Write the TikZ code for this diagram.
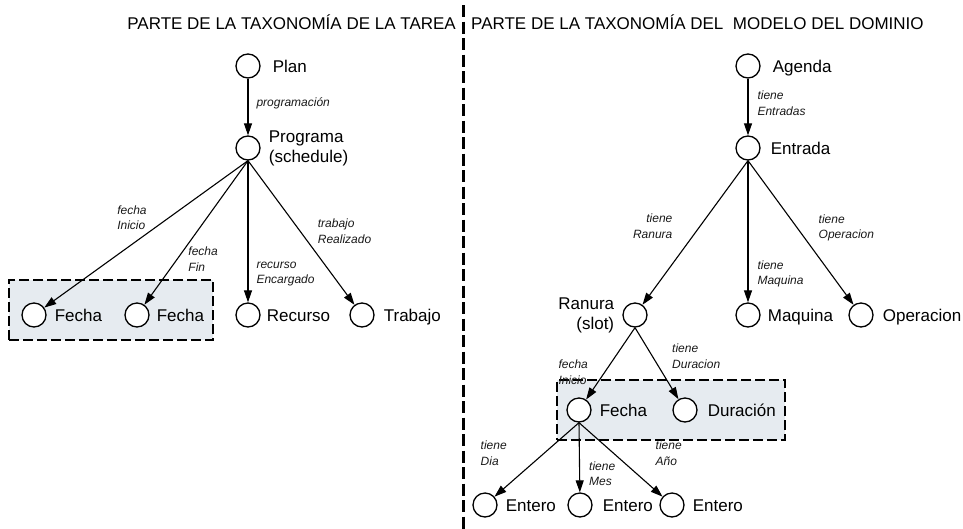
\documentclass[tikz,border=0pt]{standalone}
\usepackage{fontspec}
\setmainfont{Liberation Sans}
\usetikzlibrary{positioning, fit, backgrounds, arrows.meta}
\definecolor{boxfill}{RGB}{230,235,240}

\begin{document}
\begin{tikzpicture}[
    x=1pt, y=-1pt,
    % ── node styles ─────────────────────────────────────────
    obj/.style = { draw, circle, minimum size=24pt, inner sep=0pt,
            line width=1.3pt, fill=white, },
    lbl/.style = { font=\fontsize{17}{20}\selectfont, inner sep=1pt,
            text height=15.7pt, text depth=3.5pt, },
    lbl2/.style = { font=\fontsize{17}{20}\selectfont, inner sep=1pt, },
    elbl/.style = { font=\fontsize{12}{15.5}\selectfont\itshape, inner sep=1pt,
            align=left, text=black!90, },
    rel/.style = {-{Triangle[length=12pt, width=8pt]}, line width=1.1pt},
    grp/.style = { draw, fill=boxfill, dash pattern=on 10pt off 4pt,
            line width=2.8pt, inner sep=0pt, },
    title/.style = {font=\fontsize{17}{20}\selectfont, inner sep=0pt},
    divider/.style = {dash pattern=on 12pt off 4.5pt, line width=3pt},
    node distance = 7pt,
    ]
    \useasboundingbox (0,0) rectangle (963,528);

    % ============================================================
    % TITLES  |  DIVIDER
    % ============================================================
    \node[title, anchor=base east] (title-tarea) at (456,29)
    {PARTE DE LA TAXONOMÍA DE LA TAREA};
    \node[title, anchor=base west] (title-dominio) at (471,29)
    {PARTE DE LA TAXONOMÍA DEL\ \ MODELO DEL DOMINIO};

    \coordinate (div-top) at (463,5);
    \coordinate (div-bot) at (463,530);
    \draw[divider] (div-top) -- (div-bot);

    % ============================================================
    % TASK TAXONOMY
    % ============================================================
    \node[obj] (plan) at (248,66) {};
    \node[obj] (programa) at (248,148) {};
    \node[obj] (fecha-ini) at (34,315) {};
    \node[obj] (fecha-fin) at (137,315) {};
    \node[obj] (recurso) at (248,315) {};
    \node[obj] (trabajo) at (362,315) {};

    \node[lbl, right=11pt of plan] (plan-lbl) {Plan};
    \node[lbl2, align=left, right=7pt of programa] (programa-lbl)
    {Programa\\(schedule)};
    \node[lbl, right=of fecha-ini] (fecha-ini-lbl) {Fecha};
    \node[lbl, right=6pt of fecha-fin] (fecha-fin-lbl) {Fecha};
    \node[lbl, right=5pt of recurso] (recurso-lbl) {Recurso};
    \node[lbl, right=8pt of trabajo] (trabajo-lbl) {Trabajo};

    \draw[rel] (plan) -- (programa)
    node[elbl, pos=0.43, anchor=west, xshift=7pt] (e-programacion) {programación};
    \draw[rel] (programa.south) -- (fecha-ini)
    node[elbl, pos=0.48, anchor=south east, xshift=-2pt] (e-fecha-ini) {fecha\\Inicio};
    \draw[rel] (programa.south) -- (fecha-fin)
    node[elbl, pos=0.59, anchor=north west] (e-fecha-fin) {fecha\\Fin};
    \draw[rel] (programa.south) -- (recurso)
    node[elbl, pos=0.80, anchor=west, xshift=7pt] (e-recurso) {recurso\\Encargado};
    \draw[rel] (programa.south) -- (trabajo)
    node[elbl, pos=0.585, anchor=south west, xshift=6pt] (e-trabajo) {trabajo\\Realizado};

    % ============================================================
    % DOMAIN MODEL TAXONOMY
    % ============================================================
    \node[obj] (agenda) at (748,66) {};
    \node[obj] (entrada) at (748,148) {};
    \node[obj] (ranura) at (635,315) {};
    \node[obj] (maquina) at (748,315) {};
    \node[obj] (operacion) at (861,315) {};
    \node[obj] (fecha) at (579,410) {};
    \node[obj] (duracion) at (685,410) {};
    \node[obj] (entero-dia) at (485,505) {};
    \node[obj] (entero-mes) at (580,505) {};
    \node[obj] (entero-anio) at (672,505) {};

    \node[lbl, right=11pt of agenda] (agenda-lbl) {Agenda};
    \node[lbl, right=9pt of entrada] (entrada-lbl) {Entrada};
    \node[lbl2, align=right, left=7pt of ranura] (ranura-lbl) {Ranura\\(slot)};
    \node[lbl, right=6pt of maquina] (maquina-lbl) {Maquina};
    \node[lbl, right=8pt of operacion] (operacion-lbl) {Operacion};
    \node[lbl, right=of fecha] (fecha-lbl) {Fecha};
    \node[lbl, right=9pt of duracion] (duracion-lbl) {Duración};
    \node[lbl, right=of entero-dia] (entero-dia-lbl) {Entero};
    \node[lbl, right=9pt of entero-mes] (entero-mes-lbl) {Entero};
    \node[lbl, right=of entero-anio] (entero-anio-lbl) {Entero};

    \draw[rel] (agenda) -- (entrada)
    node[elbl, pos=0.43, anchor=west, xshift=8pt] (e-entradas) {tiene\\Entradas};
    \draw[rel] (entrada.south) -- (ranura)
    node[elbl, align=right, pos=0.55, anchor=south east, xshift=-16pt] (e-ranura) {tiene\\Ranura};
    \draw[rel] (entrada.south) -- (maquina)
    node[elbl, pos=0.80, anchor=west, xshift=8pt] (e-maquina) {tiene\\Maquina};
    \draw[rel] (entrada.south) -- (operacion)
    node[elbl, pos=0.57, anchor=south west, xshift=9pt] (e-operacion) {tiene\\Operacion};
    \draw[rel] (ranura.south) -- (fecha)
    node[elbl, pos=0.81, anchor=south east, xshift=-6pt] (e-inicio) {fecha\\Inicio};
    \draw[rel] (ranura.south) -- (duracion)
    node[elbl, pos=0.59, anchor=south west, xshift=10pt] (e-duracion) {tiene\\Duracion};
    \draw[rel] (fecha.south) -- (entero-dia)
    node[elbl, pos=0.6, anchor=south east, xshift=-20pt] (e-dia) {tiene\\Dia};
    \draw[rel] (fecha.south) -- (entero-mes)
    node[elbl, pos=0.73, anchor=west, xshift=8pt] (e-mes) {tiene\\Mes};
    \draw[rel] (fecha.south) -- (entero-anio)
    node[elbl, pos=0.6, anchor=south west, xshift=25pt] (e-anio) {tiene\\Año};

    % ============================================================
    % SHARED GROUPS
    % ============================================================
    \begin{scope}[on background layer]
        \node[grp, fit={(9,280) (213,340)}] (grp-tarea) {};
        \node[grp, fit={(557,380) (785,440)}] (grp-dominio) {};
    \end{scope}

\end{tikzpicture}
\end{document}
